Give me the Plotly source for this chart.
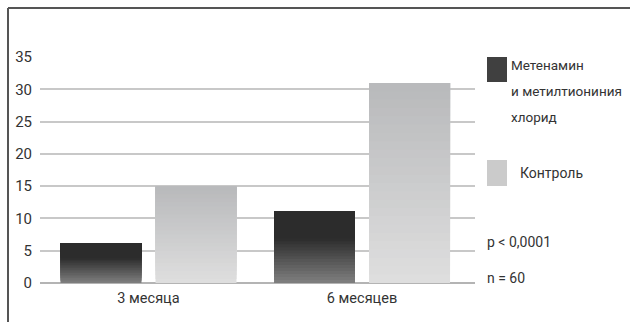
import plotly.graph_objects as go

categories = ["3 месяца", "6 месяцев"]
series_names = ["Метенамин и метилтиониния хлорид", "Контроль"]
treatment = [6.2, 11.1]
control = [15.0, 31.0]
y_ticks = [0, 5, 10, 15, 20, 25, 30, 35]

W, H = 630, 322
L, R, T, B = 40, 155, 57, 39
PW, PH = W - L - R, H - T - B
FONT = "Roboto"
TXT = "#333333"


def px(x):
    return (x - L) / PW


def py(y):
    return (H - B - y) / PH


def lerp(c1, c2, t):
    return "rgb(%d,%d,%d)" % tuple(round(a + (b - a) * t) for a, b in zip(c1, c2))


fig = go.Figure()

# vertical gradient made of overlapping bars (bottom colour -> top colour)
N = 24
grad = {
    "A": ((125, 125, 125), (44, 44, 44), treatment, 0.6),
    "B": ((222, 222, 222), (183, 184, 186), control, 1.0),
}
for grp, (cb, ct, vals, gam) in grad.items():
    for k in range(N):
        f = k / N
        t = min(1.0, f / gam)
        fig.add_trace(go.Bar(
            x=categories,
            y=[v * (1 - f) for v in vals],
            base=[v * f for v in vals],
            offsetgroup=grp,
            marker=dict(color=lerp(cb, ct, t), line=dict(width=0)),
            showlegend=False,
            hoverinfo="skip",
        ))

fig.update_layout(
    width=W, height=H,
    margin=dict(l=L, r=R, t=T, b=B),
    paper_bgcolor="white", plot_bgcolor="white",
    barmode="group", bargap=0.11, bargroupgap=0.148,
    showlegend=False,
    font=dict(family=FONT, size=14, color=TXT),
)
fig.update_yaxes(
    range=[0, 35.02], tickvals=y_ticks, showgrid=True, gridcolor="#c8c8c8",
    gridwidth=1.5, zeroline=True, zerolinecolor="#b4b4b4", zerolinewidth=1.5,
    showline=False, ticks="", ticklabelstandoff=7,
    tickfont=dict(family=FONT, size=15, color=TXT),
)
fig.update_xaxes(
    range=[-0.508, 1.529], autorange=False,
    showgrid=False, showline=False, ticks="", ticklabelstandoff=4,
    tickfont=dict(family=FONT, size=14.5, color=TXT),
)

# frame
fig.add_shape(type="line", xref="paper", yref="paper", x0=px(8), x1=px(640),
              y0=py(8), y1=py(8), line=dict(color="#555555", width=2))
fig.add_shape(type="line", xref="paper", yref="paper", x0=px(8), x1=px(8),
              y0=py(8), y1=py(330), line=dict(color="#555555", width=2))

# legend boxes
fig.add_shape(type="rect", xref="paper", yref="paper", x0=px(487), x1=px(507),
              y0=py(57), y1=py(82), fillcolor="#404040", line=dict(width=0))
fig.add_shape(type="rect", xref="paper", yref="paper", x0=px(487), x1=px(507),
              y0=py(160), y1=py(186), fillcolor="#cbcbcb", line=dict(width=0))


def note(text, x, y, size):
    fig.add_annotation(text=text, xref="paper", yref="paper", x=px(x), y=py(y),
                       xanchor="left", yanchor="middle", showarrow=False,
                       font=dict(family=FONT, size=size, color=TXT))


note("Метенамин", 509, 65, 13.5)
note("и метилтиониния", 509, 91, 13.5)
note("хлорид", 509, 117, 13.5)
note("Контроль", 518, 173, 14)
note("p &lt; 0,0001", 485, 242, 14)
note("n = 60", 485, 278, 14)

fig.write_html("out.html")
